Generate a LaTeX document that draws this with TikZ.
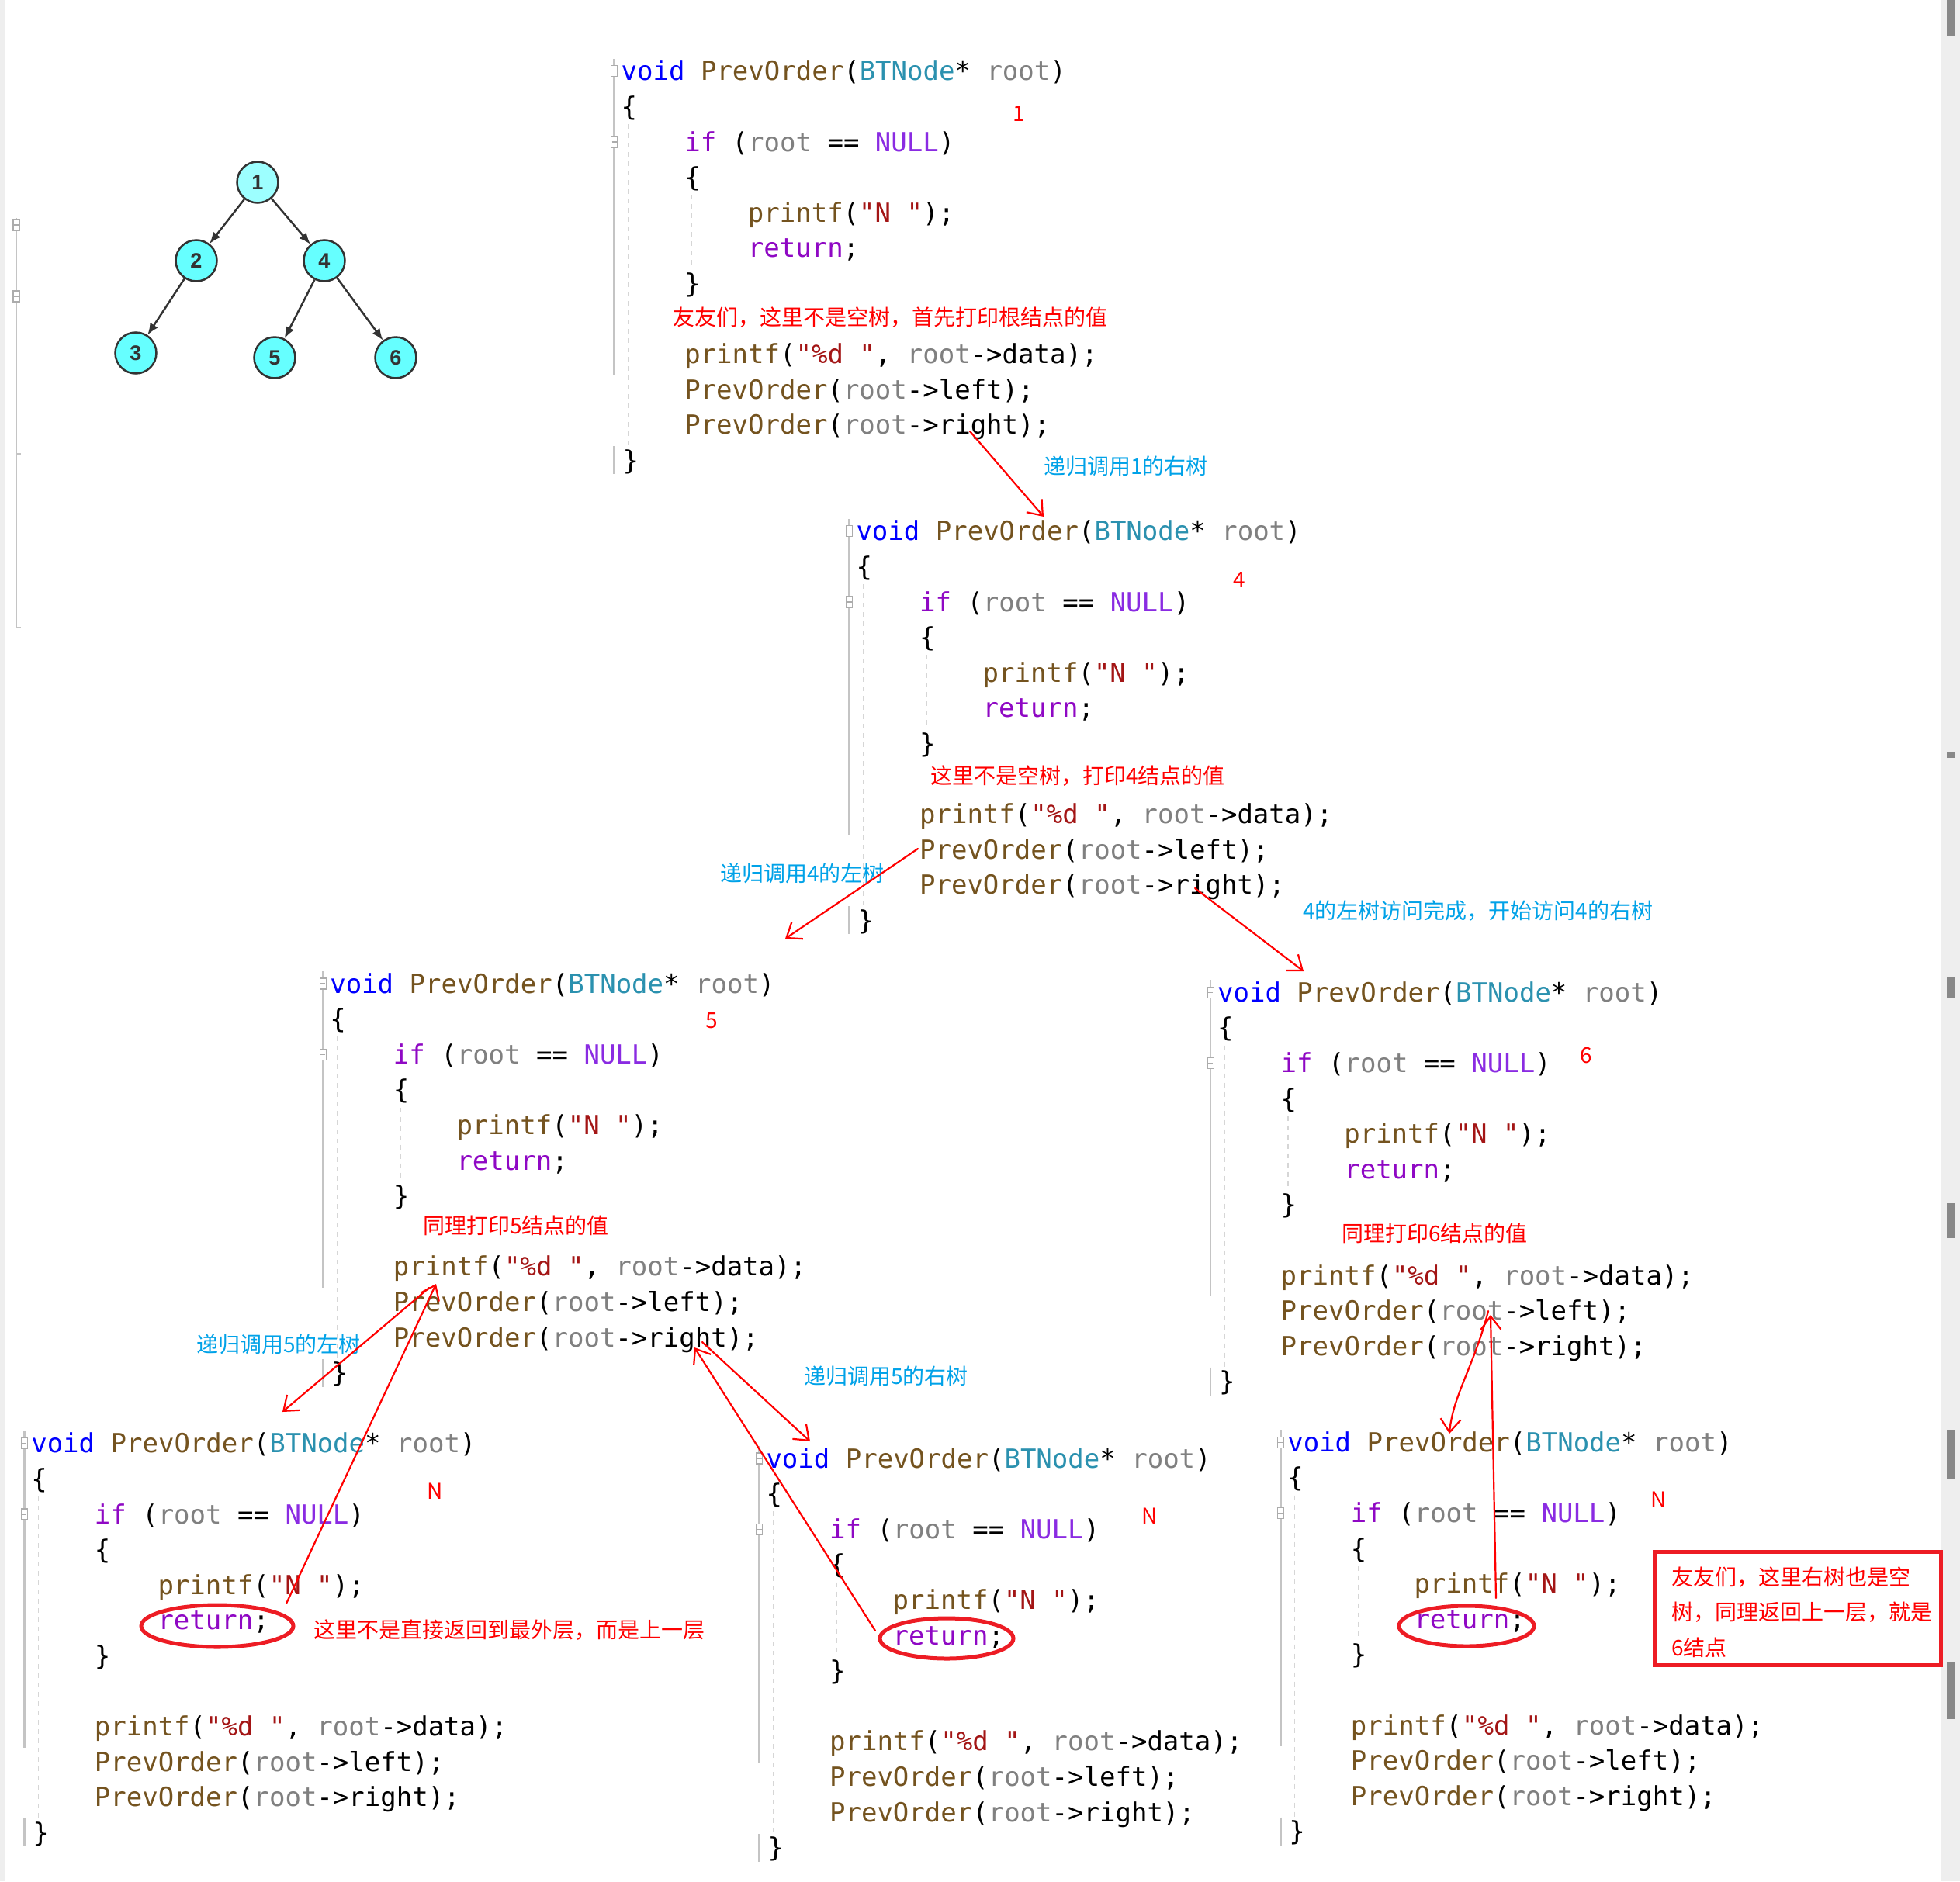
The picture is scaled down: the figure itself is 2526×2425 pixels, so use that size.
\documentclass[tikz,border=0pt]{standalone}
\usepackage{fontspec}
\usetikzlibrary{arrows.meta,shapes.geometric}
\newfontfamily\codefont{DejaVu Sans Mono}
\newfontfamily\cjk{Noto Sans CJK SC}
\newfontfamily\treefont{Liberation Sans}
\definecolor{ckw}{HTML}{0000FF}
\definecolor{cfn}{HTML}{74531F}
\definecolor{ctype}{HTML}{2B91AF}
\definecolor{cparam}{HTML}{808080}
\definecolor{cctl}{HTML}{8F08C4}
\definecolor{cmac}{HTML}{8A2BE2}
\definecolor{cstr}{HTML}{A31515}
\definecolor{annred}{HTML}{FF0000}
\definecolor{boxred}{HTML}{ED1C24}
\definecolor{annblue}{HTML}{00A2E8}
\definecolor{nodecyan}{HTML}{66FFFF}
\definecolor{nodecyanl}{HTML}{9DFFFF}
\definecolor{edgegray}{HTML}{333333}
\definecolor{guttergray}{HTML}{C4C4C4}
\definecolor{guidegray}{HTML}{D6D6D6}
\definecolor{stripgray}{HTML}{EEEEEE}
\definecolor{markgray}{HTML}{888888}
\tikzset{
  code/.style={font=\codefont\fontsize{34}{40}\selectfont, anchor=mid west, inner sep=0pt, outer sep=0pt, yshift=-10pt},
  redtxt/.style={font=\cjk\fontsize{28}{34}\selectfont, text=annred, anchor=west, inner sep=0pt},
  bluetxt/.style={font=\cjk\fontsize{28}{34}\selectfont, text=annblue, anchor=west, inner sep=0pt},
  rednum/.style={font=\cjk\fontsize{28}{34}\selectfont, text=annred, inner sep=0pt},
  tnode/.style={circle, draw=edgegray, line width=2.5pt, fill=nodecyan, minimum size=53pt, inner sep=0pt,
                font=\treefont\bfseries\fontsize{27}{27}\selectfont, text=edgegray},
  tedge/.style={draw=edgegray, line width=2.5pt, -{Latex[length=15pt,width=12pt]}},
  hand/.style={draw=annred, line width=2.2pt, line cap=round, line join=round, -{Straight Barb[length=17pt,width=26pt]}},
  ell/.style={ellipse, draw=boxred, line width=5pt, inner sep=0pt},
  gutter/.style={draw=guttergray, line width=2.5pt},
  marker/.style={draw=markgray!70, line width=1.2pt},
  guide/.style={draw=guidegray, line width=1.5pt, dash pattern=on 6pt off 6pt},
}
\newcommand\codeblock[4]{%
  \draw[gutter] ({#2-9},{#3-16}) -- ({#2-9},{#3+8.6*45.6});
  \draw[gutter] ({#2-9},{#3+11*45.6-18}) -- ({#2-9},{#3+11*45.6+18});
  \foreach \k in {0,2} {
    \filldraw[marker, fill=white] ({#2-13},{#3+\k*45.6-7}) rectangle ({#2-5},{#3+\k*45.6+7});
    \draw[marker] ({#2-12},{#3+\k*45.6}) -- ({#2-6},{#3+\k*45.6});
  }
  \draw[guide] ({#2+9},{#3+1.5*45.6}) -- ({#2+9},{#3+10.6*45.6});
  \draw[guide] ({#2+91},{#3+3.5*45.6}) -- ({#2+91},{#3+5.6*45.6});
  \node[code] (#1-0) at (#2,#3) {\textcolor{ckw}{void} \textcolor{cfn}{PrevOrder}(\textcolor{ctype}{BTNode}* \textcolor{cparam}{root})};
  \node[code] (#1-1) at (#2,{#3+45.6}) {\{};
  \node[code] (#1-2) at ({#2+81.6},{#3+2*45.6}) {\textcolor{cctl}{if} (\textcolor{cparam}{root} == \textcolor{cmac}{NULL})};
  \node[code] (#1-3) at ({#2+81.6},{#3+3*45.6}) {\{};
  \node[code] (#1-4) at ({#2+163.2},{#3+4*45.6}) {\textcolor{cfn}{printf}(\textcolor{cstr}{"N "});};
  \node[code] (#1-5) at ({#2+163.2},{#3+5*45.6}) {\textcolor{cctl}{return};};
  \node[code] (#1-6) at ({#2+81.6},{#3+6*45.6}) {\}};
  \node[code] (#1-8) at ({#2+81.6},{#3+8*45.6}) {\textcolor{cfn}{printf}(\textcolor{cstr}{"\%d "}, \textcolor{cparam}{root}->data);};
  \node[code] (#1-9) at ({#2+81.6},{#3+9*45.6}) {\textcolor{cfn}{PrevOrder}(\textcolor{cparam}{root}->left);};
  \node[code] (#1-10) at ({#2+81.6},{#3+10*45.6}) {\textcolor{cfn}{PrevOrder}(\textcolor{cparam}{root}->right);};
  \node[code] (#1-11) at ({#2+2},{#3+11*45.6}) {\}};
}
\begin{document}
\begin{tikzpicture}[x=1pt,y=-1pt]
\useasboundingbox (0,0) rectangle (2526,2425);
\fill[white] (0,0) rectangle (2526,2425);
% editor edges
\fill[stripgray] (0,0) rectangle (7,2425);
\fill[stripgray] (2502,0) rectangle (2526,2425);
\foreach \a/\b in {0/46, 970/977, 1260/1287, 1551/1596, 1843/1907, 2142/2216}
  \fill[markgray] (2509,\a) rectangle (2520,\b);
\draw[gutter] (21,281) -- (21,809);
\draw[gutter] (21,585) -- (27,585);
\draw[gutter] (21,809) -- (27,809);
\foreach \m in {290,382} {
  \filldraw[marker, fill=white] (17,\m-7) rectangle (25,\m+7);
  \draw[marker] (18,\m) -- (24,\m);
}

% tree
\node[tnode, fill=nodecyanl] (t1) at (332,235) {1};
\node[tnode] (t2) at (253,336) {2};
\node[tnode] (t4) at (418,336) {4};
\node[tnode] (t3) at (175,455) {3};
\node[tnode] (t5) at (354,461) {5};
\node[tnode] (t6) at (510,461) {6};
\draw[tedge] (t1) -- (t2);
\draw[tedge] (t1) -- (t4);
\draw[tedge] (t2) -- (t3);
\draw[tedge] (t4) -- (t5);
\draw[tedge] (t4) -- (t6);

% code blocks
\codeblock{b1}{800.7}{91.8}{}
\codeblock{b2}{1103.5}{684.7}{}
\codeblock{b3}{425.3}{1267.9}{}
\codeblock{b4}{1569.1}{1279.1}{}
\codeblock{b5}{40.3}{1860.7}{}
\codeblock{b6}{987.5}{1880.0}{}
\codeblock{b7}{1659.3}{1859.1}{}

% red comments in code
\node[redtxt] (c1) at (867,409) {友友们，这里不是空树，首先打印根结点的值};
\node[redtxt] (c2) at (1199,1000) {这里不是空树，打印4结点的值};
\node[redtxt] (c3) at (545,1580) {同理打印5结点的值};
\node[redtxt] (c4) at (1729,1590) {同理打印6结点的值};
\node[redtxt] (c5) at (404,2101) {这里不是直接返回到最外层，而是上一层};

% red numbers
\node[rednum] (n1) at (1313,147) {1};
\node[rednum] (n4) at (1597,748) {4};
\node[rednum] (n5) at (917,1316) {5};
\node[rednum] (n6) at (2044,1360) {6};
\node[rednum] (nN5) at (561,1922) {N};
\node[rednum] (nN6) at (1482,1954) {N};
\node[rednum] (nN7) at (2138,1933) {N};

% blue labels
\node[bluetxt] (l1) at (1345,601) {递归调用1的右树};
\node[bluetxt] (l2) at (928,1126) {递归调用4的左树};
\node[bluetxt] (l3) at (1679,1174) {4的左树访问完成，开始访问4的右树};
\node[bluetxt] (l4) at (253,1733) {递归调用5的左树};
\node[bluetxt] (l5) at (1036,1774) {递归调用5的右树};

% ellipses around return
\node[ell, minimum width=196pt, minimum height=54pt] (e5) at (280,2096) {};
\node[ell, minimum width=172pt, minimum height=52pt] (e6) at (1220,2112) {};
\node[ell, minimum width=174pt, minimum height=52pt] (e7) at (1890,2096) {};

% red box
\node[draw=boxred, line width=5pt, minimum width=369pt, minimum height=146pt, anchor=north west, inner sep=0pt] (rbox) at (2130,1998) {};
\node[redtxt] (rb1) at (2154,2033) {友友们，这里右树也是空};
\node[redtxt] (rb2) at (2154,2078) {树，同理返回上一层，就是};
\node[redtxt] (rb3) at (2154,2124) {6结点};

% hand drawn call / return arrows
\coordinate (aS) at (1250,556);  \coordinate (aE) at (1345,666);
\coordinate (bS) at (1183,1094); \coordinate (bE) at (1012,1210);
\coordinate (cS) at (1540,1145); \coordinate (cE) at (1680,1252);
\coordinate (dS) at (553,1660);  \coordinate (dE) at (364,1820);
\coordinate (eS) at (369,2067);  \coordinate (eE) at (562,1655);
\coordinate (fS) at (905,1730);  \coordinate (fE) at (1044,1858);
\coordinate (gS) at (1128,2102); \coordinate (gE) at (895,1737);
\coordinate (hS) at (1918,1690); \coordinate (hE) at (1868,1848);
\coordinate (iS) at (1928,2060); \coordinate (iE) at (1921,1695);
\draw[hand] (aS) -- (aE);
\draw[hand] (bS) -- (bE);
\draw[hand] (cS) -- (cE);
\draw[hand] (dS) -- (dE);
\draw[hand] (eS) -- (eE);
\draw[hand] (fS) -- (fE);
\draw[hand] (gS) -- (gE);
\draw[hand] (hS) .. controls (1900,1760) and (1872,1800) .. (hE);
\draw[hand] (iS) -- (iE);
\end{tikzpicture}
\end{document}
